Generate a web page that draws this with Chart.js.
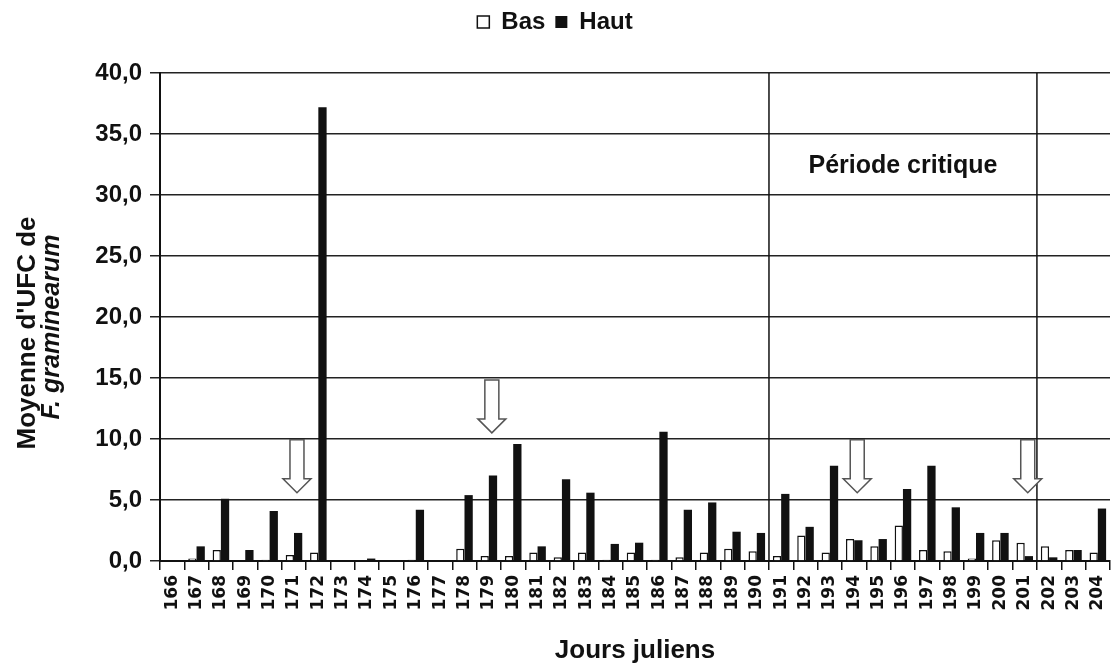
<!DOCTYPE html>
<html lang="fr">
<head>
<meta charset="utf-8">
<script src="https://cdn.jsdelivr.net/npm/chart.js@4.4.1/dist/chart.umd.min.js"></script>
<style>
  html, body { margin: 0; padding: 0; background: #fff; }
  #wrap { width: 1111px; height: 670px; }
</style>
</head>
<body>
<div id="wrap"><canvas id="ufc"></canvas></div>
<script>
// Jours juliens
const days = ['166','167','168','169','170','171','172','173','174','175','176','177','178',
  '179','180','181','182','183','184','185','186','187','188','189','190','191','192','193',
  '194','195','196','197','198','199','200','201','202','203','204'];

// Moyenne d'UFC, capteur bas
const bas = [0, 0.2, 0.9, 0, 0.1, 0.5, 0.7, 0, 0, 0, 0.1, 0, 1.0,
  0.4, 0.4, 0.7, 0.3, 0.7, 0.1, 0.7, 0.1, 0.3, 0.7, 1.0, 0.8, 0.4, 2.1, 0.7,
  1.8, 1.2, 2.9, 0.9, 0.8, 0.2, 1.7, 1.5, 1.2, 0.9, 0.7];

// Moyenne d'UFC, capteur haut
const haut = [0, 1.2, 5.1, 0.9, 4.1, 2.3, 37.2, 0, 0.2, 0, 4.2, 0, 5.4,
  7.0, 9.6, 1.2, 6.7, 5.6, 1.4, 1.5, 10.6, 4.2, 4.8, 2.4, 2.3, 5.5, 2.8, 7.8,
  1.7, 1.8, 5.9, 7.8, 4.4, 2.3, 2.3, 0.4, 0.3, 0.9, 4.3];

// flèches (jour, niveau de la pointe)
const arrowDays = ['171', '179', '194', '201'];
const arrowTips = [5.6, 10.5, 5.6, 5.6];

// période critique : entre la fin de ces deux jours
const periodEnds = ['190', '201'];
const periodLabel = 'Période critique';
const periodLabelLevel = 32.4;

const yTitle = ["Moyenne d'UFC de", 'F. graminearum'];
const ink = '#111';

// espace sous la légende
const legendGap = {
  id: 'legendGap',
  beforeInit(chart) {
    const fit = chart.legend.fit;
    chart.legend.fit = function () {
      fit.bind(chart.legend)();
      this.height += 29;
    };
  }
};

// traits verticaux, texte et flèches par-dessus les barres
const annotations = {
  id: 'annotations',
  afterDatasetsDraw(chart) {
    const { ctx, chartArea, scales: { x, y } } = chart;
    const half = (x.getPixelForValue(1) - x.getPixelForValue(0)) / 2;
    ctx.save();

    ctx.strokeStyle = ink;
    ctx.lineWidth = 1.5;
    const bounds = periodEnds.map(d => x.getPixelForValue(days.indexOf(d)) + half);
    bounds.forEach(px => {
      ctx.beginPath();
      ctx.moveTo(px, chartArea.top);
      ctx.lineTo(px, chartArea.bottom);
      ctx.stroke();
    });

    ctx.fillStyle = ink;
    ctx.font = 'bold 25px "Liberation Sans", Arial, sans-serif';
    ctx.textAlign = 'center';
    ctx.textBaseline = 'middle';
    ctx.fillText(periodLabel, (bounds[0] + bounds[1]) / 2, y.getPixelForValue(periodLabelLevel));

    // flèche creuse vers le bas
    ctx.strokeStyle = '#555';
    ctx.fillStyle = '#fff';
    ctx.lineWidth = 1.5;
    arrowDays.forEach((d, i) => {
      const cx = x.getPixelForValue(days.indexOf(d)) + 3;
      const tip = y.getPixelForValue(arrowTips[i]);
      const top = tip - 53, neck = tip - 14;
      ctx.beginPath();
      ctx.moveTo(cx - 7, top);
      ctx.lineTo(cx + 7, top);
      ctx.lineTo(cx + 7, neck);
      ctx.lineTo(cx + 14, neck);
      ctx.lineTo(cx, tip);
      ctx.lineTo(cx - 14, neck);
      ctx.lineTo(cx - 7, neck);
      ctx.closePath();
      ctx.fill();
      ctx.stroke();
    });
    ctx.restore();
  }
};

// titre de l'axe Y sur deux lignes, la seconde en italique
const yAxisTitle = {
  id: 'yAxisTitle',
  afterDraw(chart) {
    const { ctx, chartArea } = chart;
    const cy = (chartArea.top + chartArea.bottom) / 2 + 16;
    ctx.save();
    ctx.fillStyle = ink;
    ctx.textAlign = 'center';
    ctx.textBaseline = 'middle';
    ctx.translate(0, cy);
    ctx.rotate(-Math.PI / 2);
    ctx.font = 'bold 26px "Liberation Sans", Arial, sans-serif';
    ctx.fillText(yTitle[0], 0, 28);
    ctx.font = 'italic bold 25px "Liberation Sans", Arial, sans-serif';
    ctx.fillText(yTitle[1], 6, 52);
    ctx.restore();
  }
};

new Chart(document.getElementById('ufc'), {
  type: 'bar',
  data: {
    labels: days,
    datasets: [
      {
        label: 'Bas',
        data: bas,
        backgroundColor: '#fff',
        borderColor: ink,
        borderWidth: 1.5,
        categoryPercentage: 0.68,
        barPercentage: 1
      },
      {
        label: 'Haut',
        data: haut,
        backgroundColor: ink,
        borderColor: ink,
        borderWidth: 0,
        categoryPercentage: 0.68,
        barPercentage: 1
      }
    ]
  },
  options: {
    responsive: true,
    maintainAspectRatio: false,
    animation: false,
    layout: { padding: { top: 0, right: 1, left: 0, bottom: 0 } },
    plugins: {
      legend: {
        position: 'top',
        labels: {
          color: ink,
          font: { family: '"Liberation Sans Narrow", "Arial Narrow", sans-serif', size: 24, weight: 'bold' },
          boxWidth: 12,
          boxHeight: 12,
          padding: 10
        }
      },
      tooltip: { enabled: false }
    },
    scales: {
      x: {
        afterFit(scale) {
          scale.height = 109;
          scale.paddingLeft = 0;
          scale.paddingRight = 0;
        },
        grid: { drawOnChartArea: false, drawTicks: true, tickLength: 9, color: ink, lineWidth: 1.5 },
        border: { color: ink, width: 2 },
        ticks: {
          color: ink,
          font: { family: '"DejaVu Sans", sans-serif', size: 17, weight: 'bold' },
          minRotation: 90,
          maxRotation: 90,
          autoSkip: false,
          padding: 5
        },
        title: {
          display: true,
          text: 'Jours juliens',
          color: ink,
          font: { family: '"Liberation Sans", Arial, sans-serif', size: 26, weight: 'bold' },
          padding: { top: 0, bottom: 4 }
        }
      },
      y: {
        min: 0,
        max: 40,
        afterFit(scale) { scale.width = 160; },
        grid: { color: '#222', lineWidth: 1.5, tickLength: 10 },
        border: { color: ink, width: 2 },
        ticks: {
          stepSize: 5,
          color: ink,
          padding: 8,
          font: { family: '"Liberation Sans", Arial, sans-serif', size: 24, weight: 'bold' },
          callback: v => v.toFixed(1).replace('.', ',')
        }
      }
    }
  },
  plugins: [legendGap, annotations, yAxisTitle]
});
</script>
</body>
</html>
